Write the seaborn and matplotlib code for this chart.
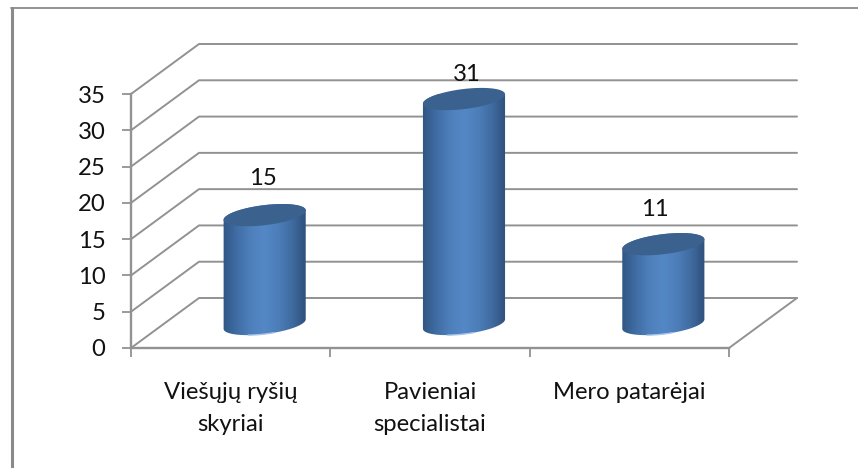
import numpy as np
import matplotlib
matplotlib.use("Agg")
import matplotlib.pyplot as plt
import seaborn as sns
from matplotlib.path import Path
from matplotlib.patches import PathPatch
from matplotlib.transforms import IdentityTransform
from matplotlib.colors import LinearSegmentedColormap

categories = ["Viešųjų ryšių\nskyriai", "Pavieniai\nspecialistai", "Mero patarėjai"]
values = [15, 31, 11]
y_ticks = [0, 5, 10, 15, 20, 25, 30, 35]

W, H = 858, 468
GRAY = "#929292"
FS = 17.2
sns.set_theme(style="white")
plt.rcParams["font.family"] = ["Lato", "DejaVu Sans"]

fig = plt.figure(figsize=(W / 100, H / 100), dpi=100, facecolor="white")
ax = fig.add_axes([131 / W, 1 - 348 / H, (729 - 131) / W, (348 - 94) / H])
sns.barplot(x=list(range(3)), y=values, ax=ax, width=0.415, native_scale=True,
            color="#4f81bd", saturation=1)
ax.set_xlim(-0.5, 2.5)
ax.set_ylim(0, 35)
ax.patch.set_alpha(0)
sns.despine(ax=ax, top=True, right=True)
fig.canvas.draw()

# 3-D wall depth, expressed in data units
depth_x = 68 / 199.33
depth_y = 50 / (254 / 35)
for v in y_ticks:
    ax.plot([-0.5, -0.5 + depth_x, 2.5 + depth_x], [v, v + depth_y, v + depth_y],
            color=GRAY, lw=1.4, clip_on=False, zorder=1)
ax.plot([2.5, 2.5 + depth_x], [0, depth_y], color=GRAY, lw=1.4, clip_on=False, zorder=1)

for s in ("left", "bottom"):
    ax.spines[s].set_color(GRAY)
    ax.spines[s].set_linewidth(1.7)
ax.set_xticks([-0.5, 0.5, 1.5, 2.5])
ax.set_xticklabels([])
ax.set_xticks([0, 1, 2], minor=True)
ax.set_xticklabels(categories, minor=True, fontsize=FS, linespacing=1.66, color="#111111")
ax.set_yticks(y_ticks)
ax.tick_params(axis="x", which="major", length=6.5, width=1.3, color=GRAY, bottom=True)
ax.tick_params(axis="x", which="minor", length=0, pad=24.5)
ax.tick_params(axis="y", length=6.5, width=1.3, color=GRAY, left=True, labelsize=FS,
               labelcolor="#111111", pad=12)
ax.set_xlabel("")
ax.set_ylabel("")

# Cylinders built on top of the bars the library drew
cmap = LinearSegmentedColormap.from_list(
    "cyl", ["#2f5582", "#3f6ca3", "#4d80bb", "#5487c6", "#4c7eb9", "#3f6a9f", "#2d4e79"])
grad = np.linspace(0, 1, 256).reshape(1, -1)
TILT = np.radians(7)
B = 10.0
SHIFT_X, SHIFT_Y = 34, 24
label_offsets = [(-2, 37), (3, 25), (-8, 35)]


def ellipse(cx, cy, a, t):
    return np.column_stack([
        cx + a * np.cos(t) * np.cos(TILT) - B * np.sin(t) * np.sin(TILT),
        cy + a * np.cos(t) * np.sin(TILT) + B * np.sin(t) * np.cos(TILT),
    ])


id_tr = IdentityTransform()
for bar, val, (ox, oy) in zip(ax.patches, values, label_offsets):
    bb = bar.get_window_extent()
    x0, x1 = bb.x0 + SHIFT_X, bb.x1 + SHIFT_X
    y0, y1 = bb.y0 + SHIFT_Y, bb.y1 + SHIFT_Y
    cx, a = (x0 + x1) / 2, (x1 - x0) / 2
    bar.set_visible(False)
    low = ellipse(cx, y0, a, np.linspace(np.pi, 2 * np.pi, 60))
    up = ellipse(cx, y1, a, np.linspace(0, np.pi, 60))
    body = PathPatch(Path(np.vstack([low, up, low[:1]])), transform=id_tr, fc="none", ec="none",
                     clip_on=False)
    ax.add_patch(body)
    im = ax.imshow(grad, cmap=cmap, aspect="auto", zorder=3,
                   extent=[x0 - 1, x1 + 1, y0 - 20, y1 + 20], transform=id_tr)
    im.set_clip_path(body)
    hl = ellipse(cx, y0, a, np.linspace(1.36 * np.pi, 1.56 * np.pi, 20))
    ax.plot(hl[:, 0], hl[:, 1], color="#a9c6ea", lw=1.0, transform=id_tr, zorder=4,
            clip_on=False)
    top = ellipse(cx, y1, a, np.linspace(0, 2 * np.pi, 120))
    ax.add_patch(PathPatch(Path(top), transform=id_tr, fc="#3b618f", ec="none", zorder=5,
                           clip_on=False))
    ax.text(cx + ox, y1 + oy, str(val), ha="center", va="center", fontsize=FS,
            color="#111111", transform=id_tr, zorder=6, clip_on=False)

ax.set_xlim(-0.5, 2.5)
ax.set_ylim(0, 35)

# Chart-area frame (left and top edges visible)
frame = fig.add_axes([0, 0, 1, 1], zorder=-1)
frame.set_xlim(0, W)
frame.set_ylim(H, 0)
frame.axis("off")
frame.plot([12, 12], [H, 8], color="#8a8a8a", lw=2.2)
frame.plot([11, W], [8, 8], color="#8a8a8a", lw=1.3)

fig.savefig("out.png", dpi=100, facecolor="white")
